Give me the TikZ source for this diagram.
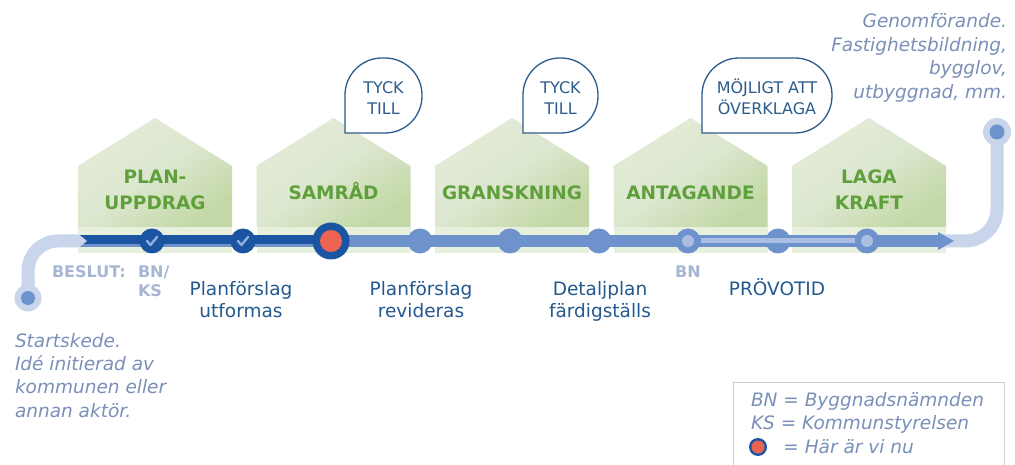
\documentclass[tikz,border=0pt]{standalone}
\usepackage{fontspec}
\setmainfont{DejaVu Sans}
\usetikzlibrary{calc}
\definecolor{hgA}{HTML}{E3EBD7}
\definecolor{hgM}{HTML}{DCE7CF}
\definecolor{hgB}{HTML}{C3D8A6}
\definecolor{hband}{HTML}{E7EFDD}
\definecolor{lgreen}{HTML}{5FA03C}
\definecolor{dblue}{HTML}{1B55A2}
\definecolor{mblue}{HTML}{6E92CC}
\definecolor{pblue}{HTML}{C9D5EB}
\definecolor{ppblue}{HTML}{ABBFE3}
\definecolor{tblue}{HTML}{24598F}
\definecolor{gblue}{HTML}{7A90B8}
\definecolor{bgray}{HTML}{A6B6D4}
\definecolor{redc}{HTML}{EC6351}
\definecolor{bubc}{HTML}{2C5C8C}
\definecolor{legc}{HTML}{C9CED8}
\definecolor{chk}{HTML}{8DAFE0}
\begin{document}
\begin{tikzpicture}[x=1pt, y=-1pt,
  every node/.style={inner sep=0pt, outer sep=0pt},
  hlabel/.style={font=\bfseries\fontsize{18.5}{26}\selectfont, text=lgreen, align=center},
  btext/.style={font=\fontsize{18.5}{22}\selectfont, text=tblue, align=center},
  itext/.style={font=\itshape\fontsize{18.5}{23.4}\selectfont, text=gblue},
  ptext/.style={font=\bfseries\fontsize{16}{20}\selectfont, text=bgray, align=left},
  bubtext/.style={font=\fontsize{16}{21}\selectfont, text=bubc, align=center},
  bubble/.style={draw=bubc, fill=white, line width=1.3pt, rounded corners=37pt, line cap=rect},
  house/.style={top color=hgA, bottom color=hgB, middle color=hgM, shading angle=35},
  pale/.style={draw=pblue, line width=13pt},
  dotD/.style={circle, fill=dblue, minimum size=25pt},
  dotM/.style={circle, fill=mblue, minimum size=25pt},
  checkmark/.style={draw=chk, line width=2.4pt, line cap=round, line join=round}
]
\useasboundingbox (0,0) rectangle (1015,465);
\fill[white] (0,0) rectangle (1015,465);

% houses
\foreach \L in {78,256.5,435,613.5,792}{
  \shade[house] (\L,227) -- (\L,166) -- (\L+77,118) -- (\L+154,166) -- (\L+154,227) -- cycle;
  \fill[hband] (\L,227) rectangle (\L+154,253);
}
\node[hlabel] (l1) at (155,189.5) {PLAN-\\UPPDRAG};
\node[hlabel, anchor=base] (l2) at (333.5,200) {SAMRÅD};
\node[hlabel, anchor=base] (l3) at (512,200) {GRANSKNING};
\node[hlabel, anchor=base] (l4) at (690.5,200) {ANTAGANDE};
\node[hlabel] (l5) at (869,189.5) {LAGA\\KRAFT};

% bubbles
\draw[bubble] (345,133) -- (345,58) -- (422,58) -- (422,133) -- (345,133);
\node[bubtext] (b1) at (383.5,98) {TYCK\\TILL};
\draw[bubble] (523,133) -- (523,58) -- (598,58) -- (598,133) -- (523,133);
\node[bubtext] (b2) at (560.5,98) {TYCK\\TILL};
\draw[bubble] (702,133) -- (702,58) -- (832,58) -- (832,133) -- (702,133);
\node[bubtext] (b3) at (767,97) {MÖJLIGT ATT\\ÖVERKLAGA};

% positions
\coordinate (st) at (28,298);
\coordinate (en) at (997,132);
\coordinate (pend) at (74,241);
\coordinate (lineL) at (80,241);
\coordinate (ab) at (940,241);
\coordinate (tip) at (954,241);
\coordinate (dL) at (80,239.5);
\coordinate (dR) at (331,239.5);

% pale start / end connectors
\draw[pale, rounded corners=30pt] (st) |- (pend);
\draw[pale, rounded corners=32pt] (ab) -| (en);

% main line
\draw[mblue, line width=12pt] (lineL) -- (ab);
\fill[mblue] ($(ab)+(-2,-9)$) -- (tip) -- ($(ab)+(-2,9)$) -- cycle;
\draw[dblue, line width=9pt] (dL) -- (dR);
\fill[pblue] (72,234.5) -- (79,234.5) -- (87,241) -- (79,247.5) -- (72,247.5) -- cycle;

% stations
\node[dotD] (c1) at (152,241) {};
\node[dotD] (c2) at (243,241) {};
\node[circle, fill=dblue, minimum size=37pt] (c3) at (331,241) {};
\node[circle, fill=redc, minimum size=22pt] (c3r) at (c3) {};
\node[dotM] (c4) at (420,241) {};
\node[dotM] (c5) at (510,241) {};
\node[dotM] (c6) at (599,241) {};
\node[dotM] (c7) at (688,241) {};
\node[dotM] (c8) at (778,241) {};
\node[dotM] (c9) at (867,241) {};
\draw[checkmark] ($(c1)+(-5,0)$) -- ++(3.5,4) -- ++(6.5,-8);
\draw[checkmark] ($(c2)+(-5,0)$) -- ++(3.5,4) -- ++(6.5,-8);

% provotid inner line
\draw[ppblue, line width=5pt] (c7) -- (c9);
\node[circle, fill=ppblue, minimum size=12pt] (p1) at (c7) {};
\node[circle, fill=ppblue, minimum size=12pt] (p2) at (c9) {};

% start / end circles
\node[circle, fill=pblue, minimum size=27pt] (stc) at (st) {};
\node[circle, fill=mblue, minimum size=14pt] (std) at (st) {};
\node[circle, fill=pblue, minimum size=28pt] (enc) at (en) {};
\node[circle, fill=mblue, minimum size=15pt] (end) at (en) {};

% labels below line (base anchor = last line)
\node[ptext, anchor=base west] (besl) at (52,277) {BESLUT:};
\node[ptext, anchor=base west] (bnks) at (138,297) {BN/\\KS};
\node[ptext, anchor=base] (bn2) at (688,277) {BN};
\node[btext, anchor=base] (t1) at (241,317) {Planförslag\\utformas};
\node[btext, anchor=base] (t2) at (421,317) {Planförslag\\revideras};
\node[btext, anchor=base] (t3) at (600,317) {Detaljplan\\färdigställs};
\node[btext, anchor=base] (t4) at (777,295) {PRÖVOTID};

% italic notes
\node[itext, align=left, anchor=base west] (startTxt) at (15,417.2) {Startskede.\\Idé initierad av\\kommunen eller\\annan aktör.};
\node[itext, align=right, anchor=base east] (endTxt) at (1007,98.2) {Genomförande.\\Fastighetsbildning,\\bygglov,\\utbyggnad, mm.};

% legend
\draw[legc, line width=1pt] (733,382) rectangle (1004,475);
\node[itext, align=left, anchor=base west] (leg) at (751,453) {BN = Byggnadsnämnden\\KS = Kommunstyrelsen\\\hphantom{BN} = Här är vi nu};
\node[circle, fill=dblue, minimum size=18pt] (lc) at (758,447) {};
\node[circle, fill=redc, minimum size=13pt] (lcr) at (lc) {};
\end{tikzpicture}
\end{document}
